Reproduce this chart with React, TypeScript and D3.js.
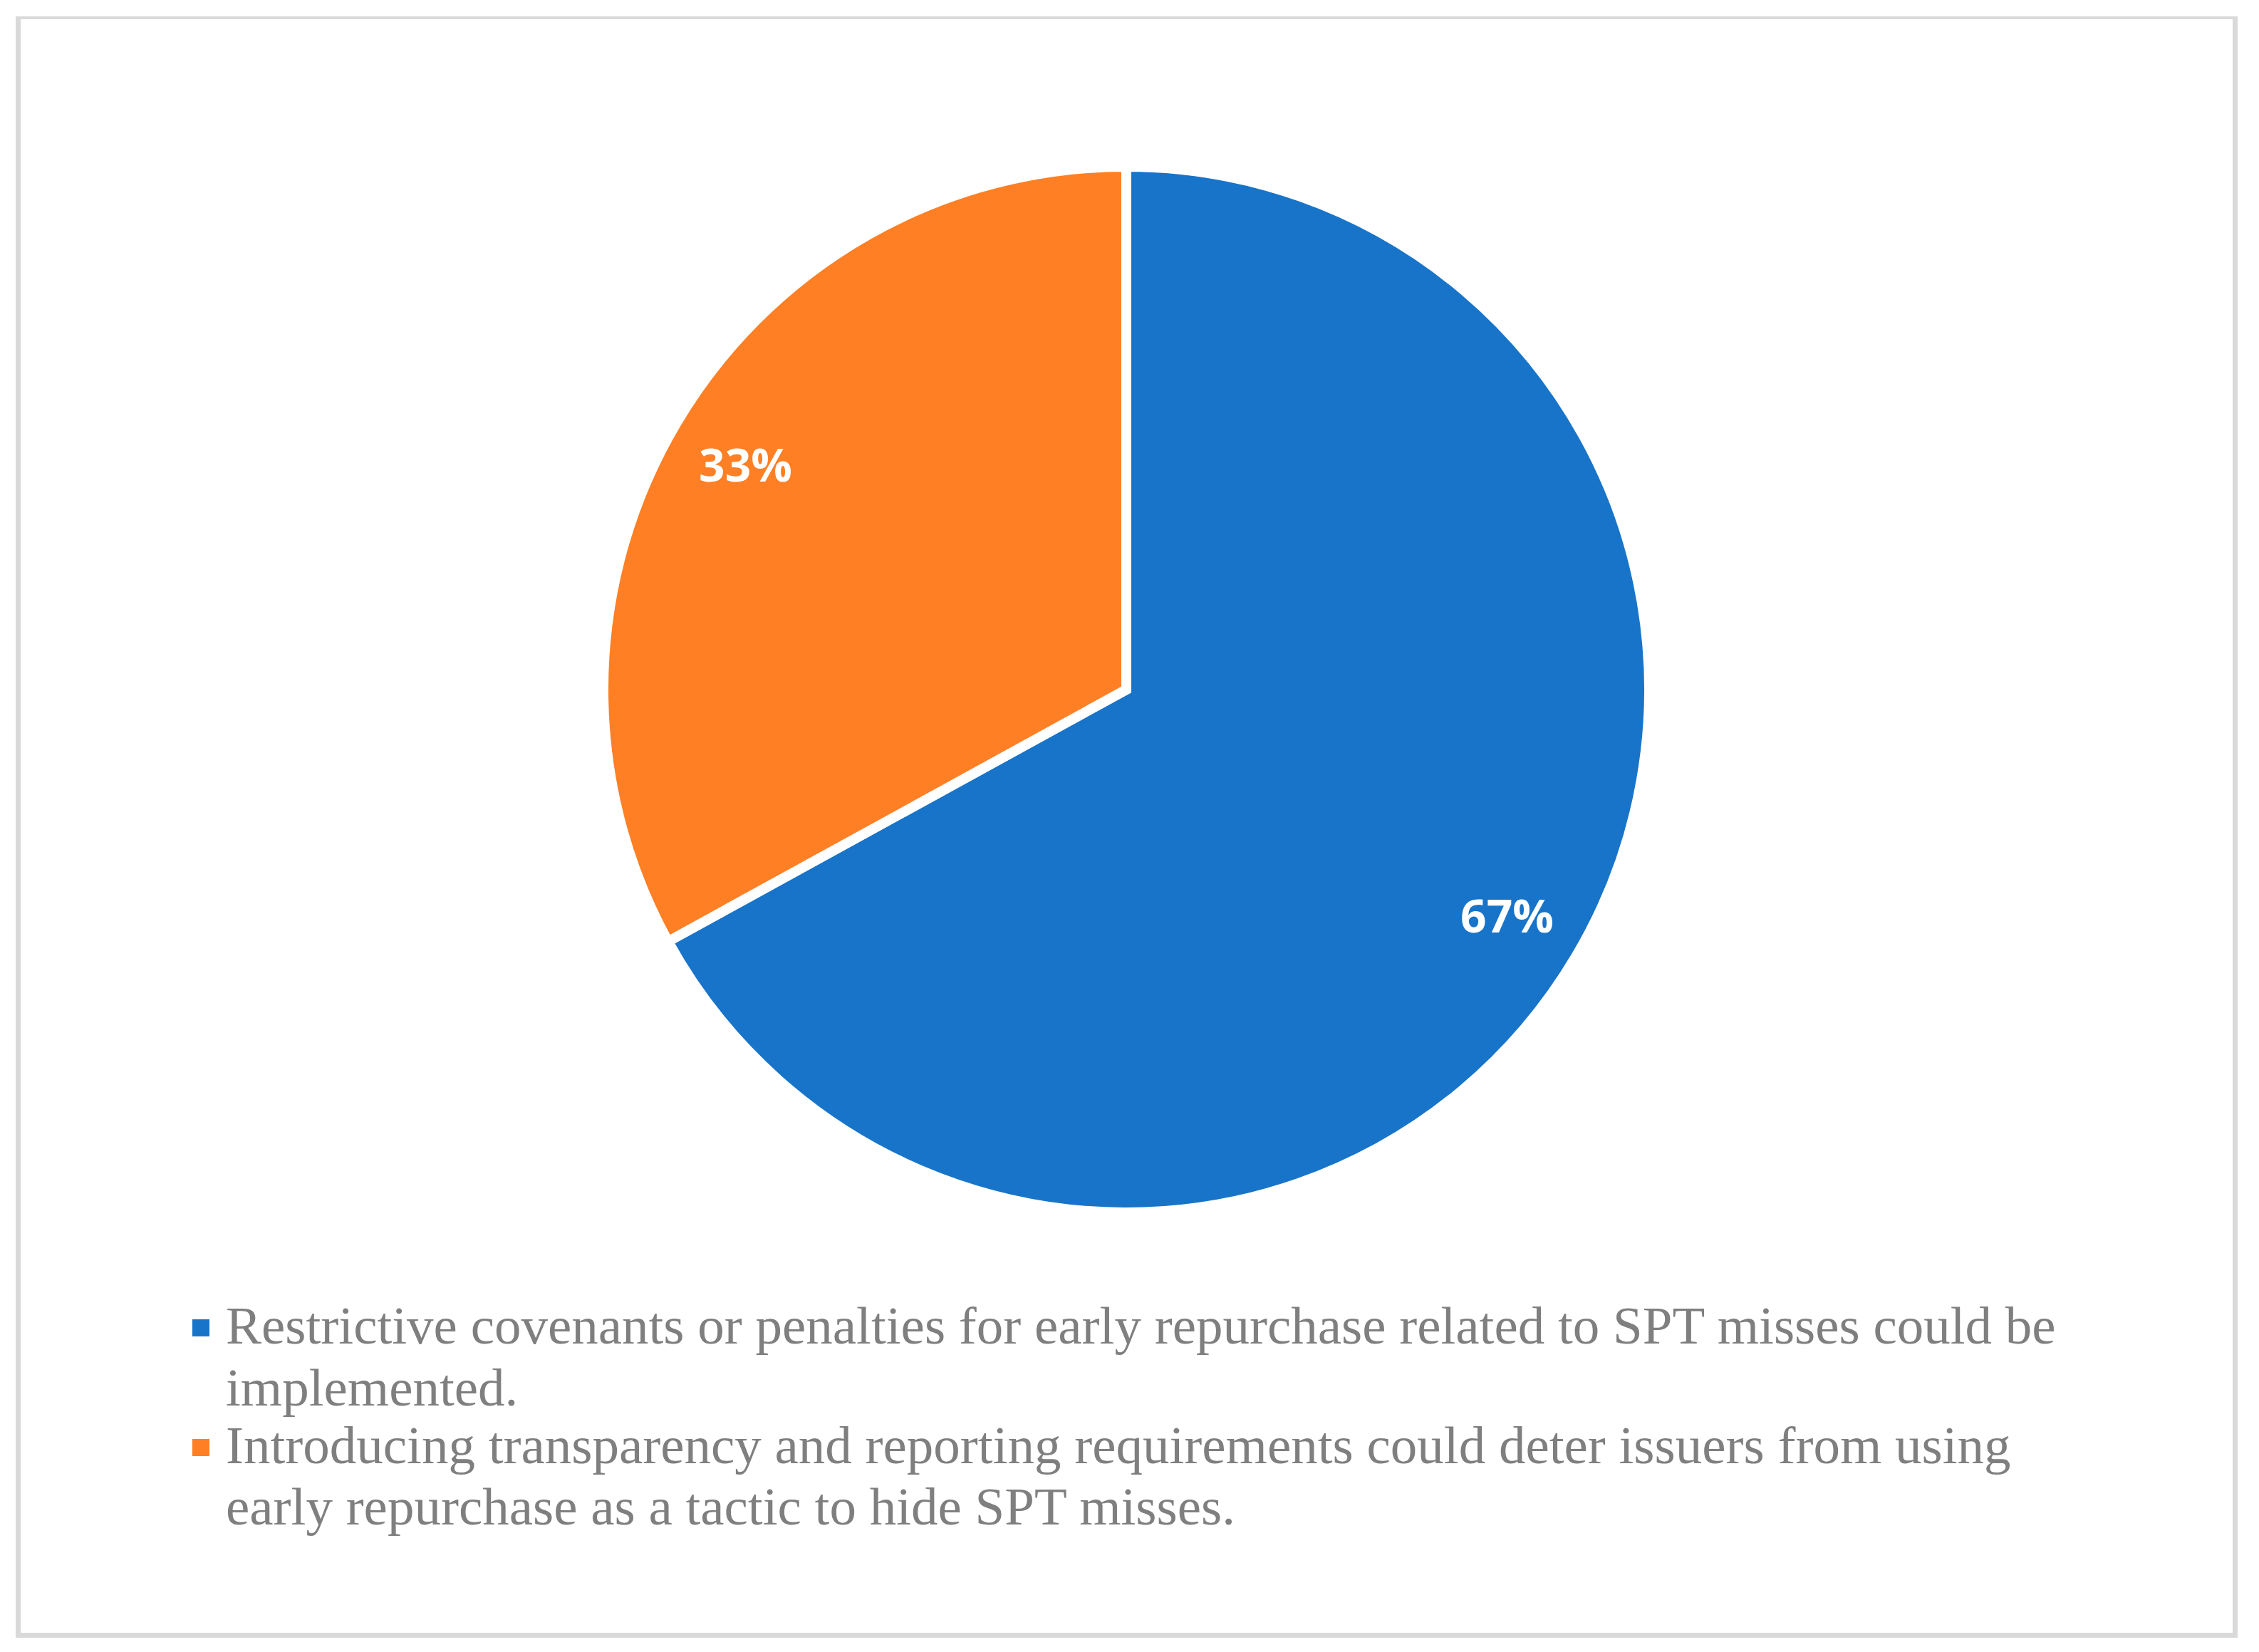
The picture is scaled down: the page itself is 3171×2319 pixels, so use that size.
import React from "react";
import * as d3 from "d3";

const categories = [
  "Restrictive covenants or penalties for early repurchase related to SPT misses could be implemented.",
  "Introducing transparency and reporting requirements could deter issuers from using early repurchase as a tactic to hide SPT misses.",
];
const values = [67, 33];
const colors = ["#1874c9", "#ff7f25"];
const legendLines = [
  ["Restrictive covenants or penalties for early repurchase related to SPT misses could be", "implemented."],
  ["Introducing transparency and reporting requirements could deter issuers from using", "early repurchase as a tactic to hide SPT misses."],
];

const W = 3171;
const H = 2319;

export default function App() {
  const cx = 1581;
  const cy = 968;
  const r = 734;
  const pie = d3.pie<number>().sort(null).value((d) => d);
  const arcs = pie(values);
  const arc = d3.arc<d3.PieArcDatum<number>>().innerRadius(0).outerRadius(r);
  const labelArc = d3.arc<d3.PieArcDatum<number>>().innerRadius(621).outerRadius(621);
  const total = d3.sum(values);

  const legendX = 270;
  const textX = 317;
  const baselines = [[1886, 1973], [2054, 2140]];

  return (
    <svg width={W} height={H} style={{ position: "absolute", left: 0, top: 0, background: "#fff" }}>
      <rect x={0} y={0} width={W} height={H} fill="#ffffff" />
      <rect x={22} y={23} width={3119} height={2276} fill="#d9d9d9" />
      <rect x={29} y={27} width={3105} height={2265} fill="#ffffff" />
      <g transform={`translate(${cx},${cy})`}>
        {arcs.map((a, i) => (
          <path key={i} d={arc(a) || ""} fill={colors[i]} stroke="#ffffff" strokeWidth={14} strokeLinejoin="miter" />
        ))}
        {arcs.map((a, i) => {
          const [lx, ly] = labelArc.centroid(a);
          return (
            <text
              key={i}
              x={lx}
              y={ly}
              textAnchor="middle"
              dominantBaseline="central"
              fill="#ffffff"
              fontFamily="'Open Sans', sans-serif"
              fontWeight={700}
              fontSize={64}
            >
              {`${Math.round((a.value / total) * 100)}%`}
            </text>
          );
        })}
      </g>
      {categories.map((c, i) => (
        <g key={i}>
          <rect x={legendX} y={baselines[i][0] - 34} width={24} height={24} fill={colors[i]} />
          {legendLines[i].map((line, j) => (
            <text
              key={j}
              x={textX}
              y={baselines[i][j]}
              fill="#7f7f7f"
              fontFamily="'Liberation Serif', 'Times New Roman', serif"
              fontSize={75}
            >
              {line}
            </text>
          ))}
        </g>
      ))}
    </svg>
  );
}
